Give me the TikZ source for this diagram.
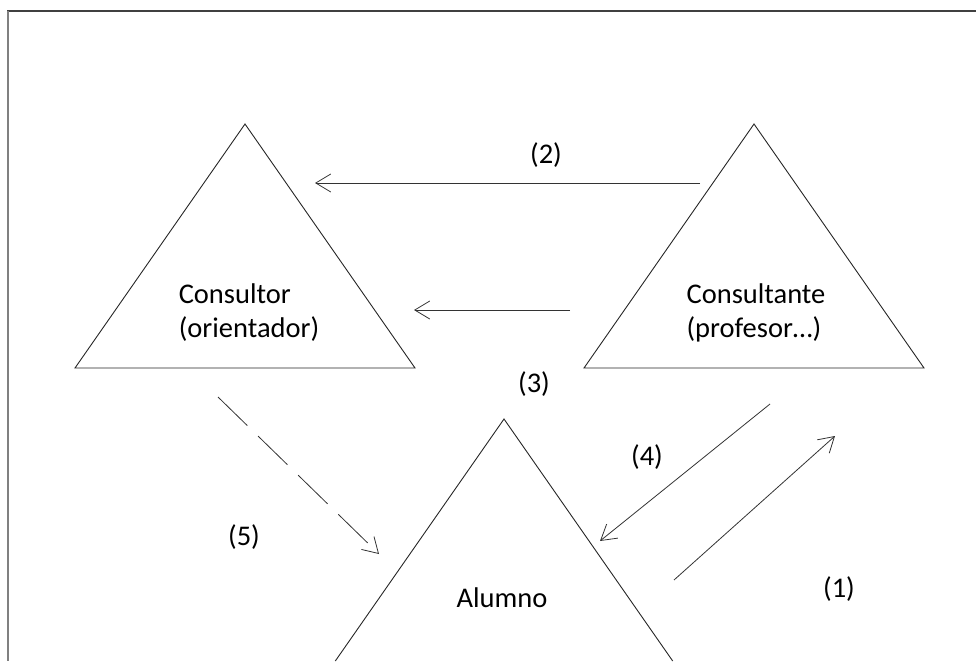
\documentclass[tikz,border=0pt]{standalone}
\usepackage{fontspec}
\setmainfont{Carlito}
\usetikzlibrary{arrows.meta}

\begin{document}
\begin{tikzpicture}[x=1pt,y=-1pt,
  >={Straight Barb[length=15pt,width=18pt]},
  txt/.style={font=\fontsize{28.5}{34}\selectfont,inner sep=0pt},
  tri/.style={draw=black!85,line width=0.9pt},
  flow/.style={->,draw=black!80,line width=0.8pt}]
\useasboundingbox (0,0) rectangle (976,661);
% marco
\draw[black!75,line width=2pt] (7,11) -- (976,11);
\draw[gray,line width=2pt] (8,11) -- (8,661);
% triangulos
\draw[tri] (75,368) -- (245,124) -- (415,368) -- cycle;
\draw[tri] (584,368) -- (754,124) -- (924,368) -- cycle;
\draw[tri] (335.3,661) -- (504,419) -- (672.7,661);
% textos
\node[txt,align=left] (consultor) at (249,313) {Consultor\\(orientador)};
\node[txt,align=left] (consultante) at (756,313) {Consultante\\(profesor\dots)};
\node[txt] (alumno) at (502,598) {Alumno};
\node[txt] (n2) at (546,155) {(2)};
\node[txt] (n3) at (534,384) {(3)};
\node[txt] (n4) at (647,457) {(4)};
\node[txt] (n5) at (244,537) {(5)};
\node[txt] (n1) at (839,589) {(1)};
% flechas
\coordinate (a2s) at (700,183);
\coordinate (a2e) at (315,183);
\coordinate (a3s) at (570,310);
\coordinate (a3e) at (414,310);
\coordinate (a5s) at (218,397);
\coordinate (a5e) at (379,554);
\coordinate (a4s) at (770,404);
\coordinate (a4e) at (600,541);
\coordinate (a1s) at (674,580);
\coordinate (a1e) at (835,436);
\draw[flow] (a2s) -- (a2e);
\draw[flow] (a3s) -- (a3e);
\draw[flow,dash pattern=on 41pt off 15pt] (a5s) -- (a5e);
\draw[flow] (a4s) -- (a4e);
\draw[flow] (a1s) -- (a1e);

\end{tikzpicture}
\end{document}
